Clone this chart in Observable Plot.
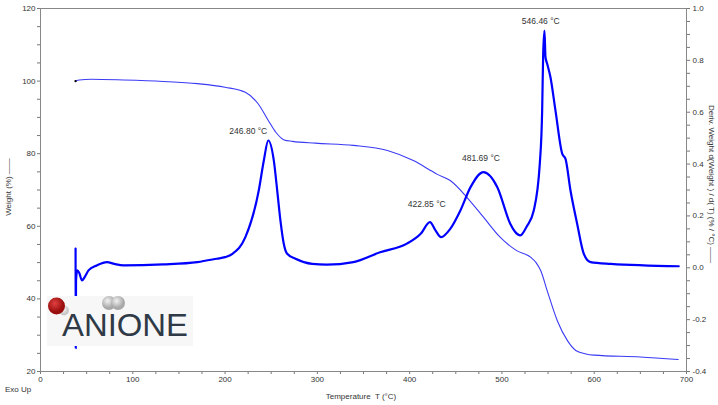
<!DOCTYPE html>
<html><head><meta charset="utf-8">
<script src="https://cdn.jsdelivr.net/npm/d3@7"></script>
<script src="https://cdn.jsdelivr.net/npm/@observablehq/plot@0.6"></script>
<style>
html,body{margin:0;padding:0;background:#fff;}
#chart{position:relative;width:718px;height:405px;}
</style></head><body><div id="chart"></div>
<script>
// Weight (%) vs temperature (°C)
const weightT   = [38, 42, 55, 90, 133, 170, 200, 222, 236, 247, 255, 264, 273, 298, 339, 376, 404, 420, 430, 444, 462, 480, 498, 516, 531, 537, 542, 549, 560, 571, 580, 590, 600, 650, 691];
const weightPct = [100.0, 100.3, 100.5, 100.3, 99.9, 99.3, 98.3, 96.9, 93.7, 89.1, 85.9, 83.8, 83.4, 82.9, 82.3, 80.9, 78.1, 75.8, 74.3, 72.6, 68.0, 62.5, 57.0, 53.3, 51.5, 50.0, 47.8, 42.3, 34.0, 28.5, 25.8, 24.9, 24.5, 24.0, 23.3];

// Deriv. weight (%/°C) vs temperature (°C)
const derivT   = [38, 38.2, 38.5, 39.8, 42, 45, 48, 52, 61, 72, 80, 90, 133, 170, 191, 200, 208, 222, 236.5, 242, 246.8, 252.8, 256.5, 260, 263.6, 267.3, 276.3, 294.4, 310, 339, 368, 397, 412, 422, 428, 434, 444, 455, 466, 480, 495, 509, 514, 520, 527, 534.5, 541, 543.6, 544.7, 546.1, 547.2, 549, 552.6, 558, 565.3, 568.9, 574.3, 581.5, 588.7, 596, 618, 691.6];
const derivVal = [0.074, -0.31, -0.05, -0.01, -0.02, -0.049, -0.035, -0.01, 0.009, 0.022, 0.015, 0.009, 0.013, 0.022, 0.035, 0.041, 0.054, 0.118, 0.298, 0.414, 0.491, 0.414, 0.298, 0.182, 0.093, 0.054, 0.035, 0.015, 0.012, 0.022, 0.060, 0.093, 0.131, 0.176, 0.144, 0.118, 0.150, 0.221, 0.311, 0.369, 0.311, 0.170, 0.14, 0.125, 0.16, 0.221, 0.40, 0.607, 0.825, 0.915, 0.812, 0.787, 0.735, 0.607, 0.44, 0.42, 0.298, 0.170, 0.054, 0.022, 0.015, 0.006];

// Peak annotations
const peakT      = [246.80, 422.85, 481.69, 546.46];
const peakVal    = [0.496, 0.213, 0.391, 0.919];
const peakLabels = ["246.80 °C", "422.85 °C", "481.69 °C", "546.46 °C"];

// Ticks
const xTicks      = d3.range(0, 701, 25);
const weightTicks = d3.range(20, 121, 5);
const derivTicks  = d3.range(-8, 21).map(i => i / 20);

// map derivative (-0.4..1.0) onto weight scale (20..120)
const toY = d => 20 + (d + 0.4) / 1.4 * 100;
const fromY = y => (y - 20) / 100 * 1.4 - 0.4;

const weightData = weightT.map((t, i) => ({t, v: weightPct[i]}));
const derivData = derivT.map((t, i) => ({t, v: toY(derivVal[i])}));
const peaks = peakT.map((t, i) => ({t, v: toY(peakVal[i]), label: peakLabels[i]}));

const font = "'Liberation Sans Narrow', 'Arial Narrow', 'Liberation Sans', Arial, sans-serif";

const plot = Plot.plot({
  width: 718, height: 405,
  marginLeft: 40, marginRight: 32, marginTop: 8, marginBottom: 34,
  style: {fontFamily: font, fontSize: "8px", color: "#333", background: "#fff"},
  x: {domain: [0, 700]},
  y: {domain: [20, 120]},
  marks: [
    Plot.axisX({ticks: xTicks, tickSize: 3, tickPadding: 2, stroke: "#777", fill: "#333",
      tickFormat: d => d % 100 === 0 ? String(d) : "", label: null}),
    Plot.axisY({anchor: "left", ticks: weightTicks, tickSize: 3, tickPadding: 2, stroke: "#777", fill: "#333",
      tickFormat: d => d % 20 === 0 ? String(d) : "", label: null}),
    Plot.axisY({anchor: "right", ticks: derivTicks.map(toY), tickSize: 3, tickPadding: 3, stroke: "#777", fill: "#333",
      tickFormat: y => { const k = Math.round(fromY(y) * 20); return k % 4 === 0 ? (k / 20).toFixed(1) : ""; }, label: null}),
    Plot.frame({stroke: "#888"}),
    Plot.line(weightData, {x: "t", y: "v", stroke: "#3a3af5", strokeWidth: 1.1, curve: "monotone-x"}),
    Plot.dot(weightData.slice(0, 1), {x: "t", y: "v", r: 1.2, fill: "#000"}),
    Plot.line(derivData, {x: "t", y: "v", stroke: "#0000ff", strokeWidth: 2.2, curve: "monotone-x"}),
    Plot.text(peaks.slice(0, 1), {x: "t", y: "v", text: "label", dy: -8, dx: -1, textAnchor: "end", fill: "#333", fontSize: 8.5}),
    Plot.text(peaks.slice(1), {x: "t", y: "v", text: "label", dy: -8, dx: -4, textAnchor: "middle", fill: "#333", fontSize: 8.5})
  ]
});
document.getElementById("chart").appendChild(plot);

const svg = d3.select(plot);
// axis titles
svg.append("text").attr("transform", "translate(11,187) rotate(-90)").attr("text-anchor", "middle")
  .attr("fill", "#333").style("font-size", "8px").text("Weight (%) ——");
svg.append("text").attr("transform", "translate(709,184) rotate(90)").attr("text-anchor", "middle")
  .attr("fill", "#333").style("font-size", "8px").text("Deriv. Weight d(Weight ) / d( T) (% / °C) ——");
svg.append("text").attr("x", 361).attr("y", 399).attr("text-anchor", "middle")
  .attr("fill", "#333").style("font-size", "8px").text("Temperature  T (°C)");
svg.append("text").attr("x", 5).attr("y", 392).attr("text-anchor", "start")
  .attr("fill", "#333").style("font-size", "8px").text("Exo Up");

// logo
const defs = svg.append("defs");
const rg = defs.append("radialGradient").attr("id", "red").attr("cx", "40%").attr("cy", "35%");
rg.append("stop").attr("offset", "0%").attr("stop-color", "#e04040");
rg.append("stop").attr("offset", "100%").attr("stop-color", "#9a0e0e");
const gg = defs.append("radialGradient").attr("id", "gray").attr("cx", "40%").attr("cy", "35%");
gg.append("stop").attr("offset", "0%").attr("stop-color", "#f2f2f2");
gg.append("stop").attr("offset", "100%").attr("stop-color", "#a8a8a8");
const wg = defs.append("radialGradient").attr("id", "white").attr("cx", "40%").attr("cy", "35%");
wg.append("stop").attr("offset", "0%").attr("stop-color", "#ffffff");
wg.append("stop").attr("offset", "100%").attr("stop-color", "#c8c8c8");
const logo = svg.append("g");
logo.append("rect").attr("x", 47).attr("y", 296).attr("width", 146).attr("height", 50).attr("fill", "#f7f7f8");
logo.append("circle").attr("cx", 64).attr("cy", 310.5).attr("r", 5).attr("fill", "url(#white)");
logo.append("circle").attr("cx", 56.5).attr("cy", 306).attr("r", 8.5).attr("fill", "url(#red)");
logo.append("circle").attr("cx", 109).attr("cy", 303).attr("r", 7).attr("fill", "url(#gray)");
logo.append("circle").attr("cx", 118).attr("cy", 303).attr("r", 7).attr("fill", "url(#gray)");
logo.append("text").attr("x", 62).attr("y", 336).attr("text-anchor", "start").attr("textLength", 126).attr("lengthAdjust", "spacingAndGlyphs")
  .attr("fill", "#2f3a46").style("font-family", "'Liberation Sans', Arial, sans-serif").style("font-size", "31px").text("ANIONE");
</script></body></html>
